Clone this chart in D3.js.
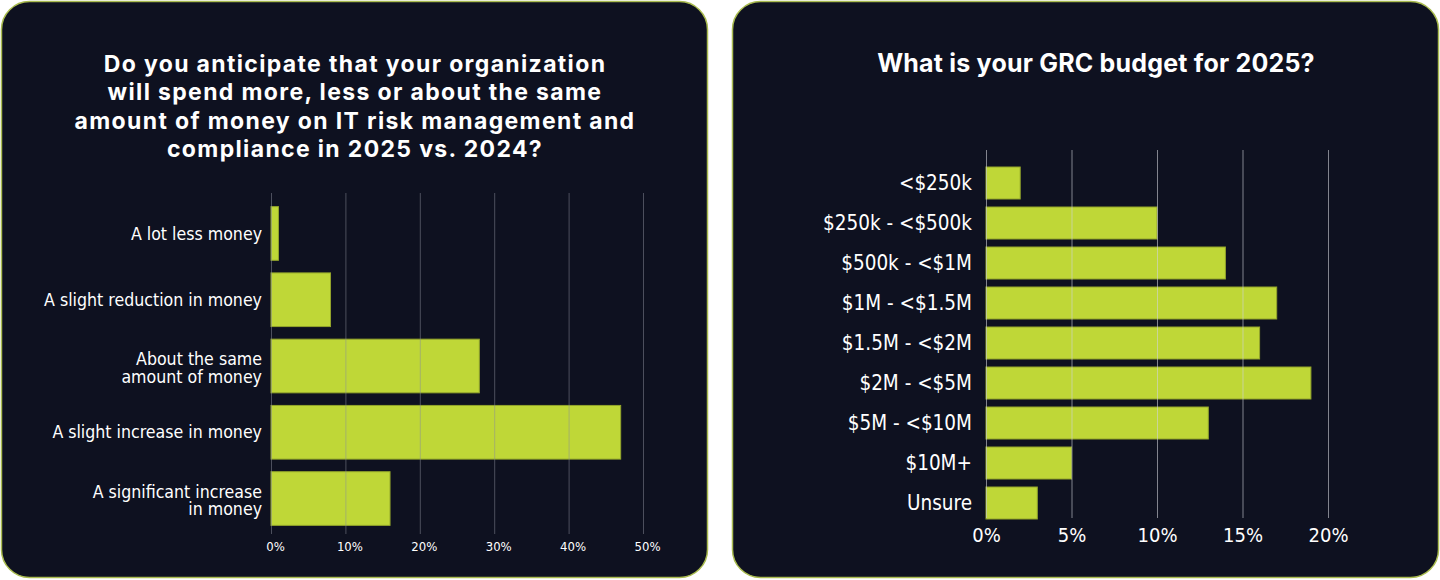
<!DOCTYPE html>
<html><head><meta charset="utf-8">
<script src="https://cdn.jsdelivr.net/npm/d3@7"></script>
<style>
html,body{margin:0;padding:0;background:#ffffff;}
svg{display:block;}
</style></head>
<body>
<svg id="c" width="1440" height="580"></svg>
<script>
// ---- data ----
const leftTitle = ["Do you anticipate that your organization","will spend more, less or about the same","amount of money on IT risk management and","compliance in 2025 vs. 2024?"];
const leftCategories = [["A lot less money"],["A slight reduction in money"],["About the same","amount of money"],["A slight increase in money"],["A significant increase","in money"]];
const leftValues = [1, 8, 28, 47, 16];
const leftTicks = [0,10,20,30,40,50];

const rightTitle = "What is your GRC budget for 2025?";
const rightCategories = ["<$250k","$250k - <$500k","$500k - <$1M","$1M - <$1.5M","$1.5M - <$2M","$2M - <$5M","$5M - <$10M","$10M+","Unsure"];
const rightValues = [2, 10, 14, 17, 16, 19, 13, 5, 3];
const rightTicks = [0,5,10,15,20];

const svg = d3.select("#c");
const BG = "#0e1120", BAR = "#bfd737", BARSTROKE = "#93a52b", BORDER = "#a9bb4f";
const NARROW = "'DejaVu Sans Condensed','Liberation Sans Narrow',sans-serif";

// cards
[[1,1],[732,1]].forEach(([x,y])=>{
  svg.append("rect").attr("x",x+0.5).attr("y",y+0.5).attr("width",706).attr("height",576)
    .attr("rx",28).attr("fill",BG).attr("stroke",BORDER).attr("stroke-width",1.5);
});

// ---------- LEFT ----------
const L = svg.append("g");
L.append("text").attr("text-anchor","middle").attr("fill","#ffffff")
  .style("font-family","Inter, 'Noto Sans', sans-serif").style("font-weight",700).style("font-size","23px")
  .style("letter-spacing","1.35px")
  .selectAll("tspan").data(leftTitle).join("tspan")
  .attr("x",355).attr("y",(d,i)=>72+i*28.3).text(d=>d);

const lx = d3.scaleLinear().domain([0,50]).range([271,643]);
const ly = d3.scaleBand().domain(leftCategories.map((d,i)=>i)).range([200,532]).paddingInner(0.19).paddingOuter(0.1);

// bars
L.selectAll("rect.bar").data(leftValues).join("rect").attr("class","bar")
  .attr("x",lx(0)).attr("y",(d,i)=>ly(i)).attr("width",d=>lx(d)-lx(0)).attr("height",ly.bandwidth())
  .attr("fill",BAR).attr("stroke",BARSTROKE).attr("stroke-width",1);

// grid (on top)
const lax = d3.axisBottom(lx).tickValues(leftTicks).tickFormat(d=>d+"%").tickSize(-(534-193)).tickPadding(8);
const lg = L.append("g").attr("transform","translate(0,534)").call(lax);
lg.select(".domain").remove();
lg.selectAll(".tick line").attr("stroke","#8a8e9a").attr("stroke-opacity",0.5).attr("stroke-width",1);
lg.selectAll(".tick text").attr("fill","#ffffff").style("font-family",NARROW).style("font-size","13px").attr("dx",4);

// category labels
leftCategories.forEach((lines,i)=>{
  const cy = ly(i)+ly.bandwidth()/2 + (lines.length>1 ? 2 : 0);
  const t = L.append("text").attr("text-anchor","end").attr("fill","#ffffff")
    .style("font-family",NARROW).style("font-size","17.6px");
  lines.forEach((s,j)=>{
    t.append("tspan").attr("x",262).attr("y",cy+(j-(lines.length-1)/2)*17.5).attr("dy","0.35em").text(s);
  });
});

// ---------- RIGHT ----------
const R = svg.append("g");
R.append("text").attr("x",1096).attr("y",72).attr("text-anchor","middle").attr("fill","#ffffff")
  .style("font-family","Inter, 'Noto Sans', sans-serif").style("font-weight",700).style("font-size","25px")
  .style("letter-spacing","0.2px").text(rightTitle);

const rx = d3.scaleLinear().domain([0,20]).range([986,1328]);
const ry = d3.scaleBand().domain(rightCategories).range([163,523]).paddingInner(0.2).paddingOuter(0.1);

R.selectAll("rect.bar").data(rightValues).join("rect").attr("class","bar")
  .attr("x",rx(0)).attr("y",(d,i)=>ry(rightCategories[i])).attr("width",d=>rx(d)-rx(0)).attr("height",ry.bandwidth())
  .attr("fill",BAR).attr("stroke",BARSTROKE).attr("stroke-width",1);

const rax = d3.axisBottom(rx).tickValues(rightTicks).tickFormat(d=>d+"%").tickSize(-(518-150)).tickPadding(10);
const rg = R.append("g").attr("transform","translate(0,518)").call(rax);
rg.select(".domain").remove();
rg.selectAll(".tick line").attr("stroke","#d0d2d8").attr("stroke-opacity",0.6).attr("stroke-width",1);
rg.selectAll(".tick text").attr("fill","#ffffff").style("font-family",NARROW).style("font-size","20px");

const ray = d3.axisLeft(ry).tickSize(0).tickPadding(14);
const rl = R.append("g").attr("transform","translate(986,0)").call(ray);
rl.select(".domain").remove();
rl.selectAll(".tick text").attr("fill","#ffffff").style("font-family",NARROW).style("font-size","20.5px");
</script>
</body></html>
